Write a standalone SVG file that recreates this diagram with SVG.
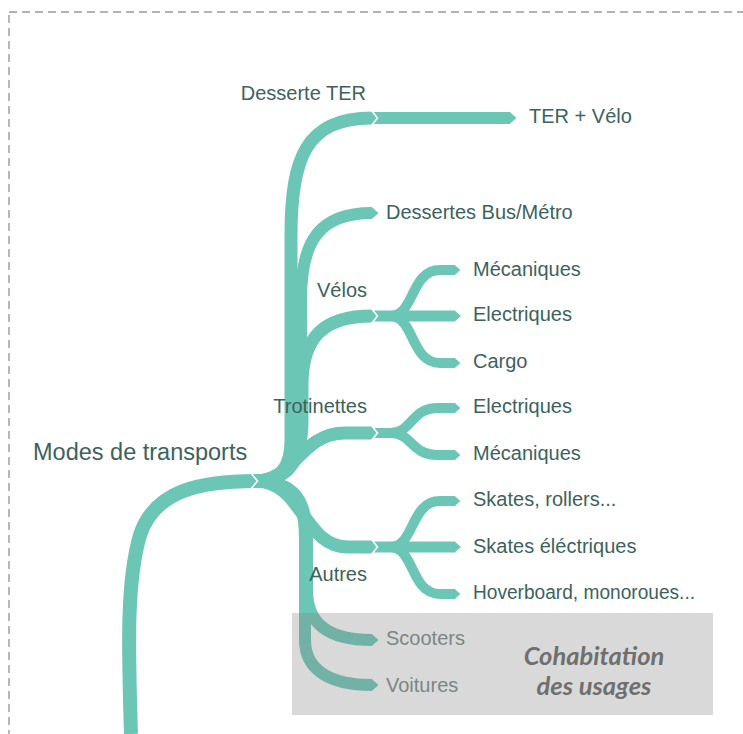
<svg xmlns="http://www.w3.org/2000/svg" width="743" height="734" viewBox="0 0 743 734">
<style>
.br{fill:none;stroke:#6cc6b6;stroke-linecap:butt;stroke-linejoin:round}
.lf{marker-end:url(#tip)}
.notch{fill:none;stroke:#ffffff;stroke-width:1.6;stroke-linejoin:miter}
.t{font-family:"Liberation Sans",Arial,sans-serif;font-size:20px;fill:#3d625d}
.root{font-size:23.5px}
.end{text-anchor:end}
.dim{fill:#7b8684}
.note{font-family:Lato,"Open Sans",sans-serif;font-size:25.5px;font-weight:bold;font-style:italic;fill:#6f6f6f;text-anchor:middle}
</style>
<defs>
<marker id="tip" markerUnits="strokeWidth" markerWidth="0.6" markerHeight="1" viewBox="0 -0.5 0.6 1" refX="0.02" refY="0" orient="auto" overflow="visible">
<path d="M0,-0.5 L0.56,0 L0,0.5 z" fill="#6cc6b6"/>
</marker>
</defs>
<rect x="9" y="12" width="760" height="760" fill="none" stroke="#9a9a9a" stroke-width="1.4" stroke-dasharray="8,5"/>
<g id="connectors">
<path class="br" stroke-width="14" d="M131,734 C128,640 127,580 140,535 C155,490 200,481 258,481"/>
<path class="br" stroke-width="13" d="M255,481 C280,481 291,468 291,440 L291,235 C291,158 306,118 372,118"/>
<path class="br lf" stroke-width="12" d="M255,481 C285,481 301,465 301,430 L301,300 C301,240 320,213 372,213"/>
<path class="br" stroke-width="13" d="M255,481 C288,481 302,460 302,420 L302,385 C302,336 325,316 372,316"/>
<path class="br" stroke-width="13" d="M255,481 C295,481 300,433 345,433 L372,433"/>
<path class="br" stroke-width="13" d="M255,481 C303,481 303,547 348,547 L372,547"/>
<path class="br lf" stroke-width="12" d="M255,481 C295,481 307,500 307,540 L307,590 C307,625 330,640 372,640"/>
<path class="br lf" stroke-width="12" d="M255,481 C295,481 305,500 305,540 L305,640 C305,670 330,685 372,685"/>
<path class="br lf" stroke-width="12" d="M372,118 L510,118"/>
<path class="br lf" stroke-width="11" d="M372,316 L455,316"/>
<path class="br lf" stroke-width="10" d="M372,316 L390,316 C415,316 410,270 440,270 L455,270"/>
<path class="br lf" stroke-width="10" d="M372,316 L390,316 C415,316 410,363 440,363 L455,363"/>
<path class="br lf" stroke-width="10" d="M372,433 L390,433 C413,433 410,408 438,408 L455,408"/>
<path class="br lf" stroke-width="10" d="M372,433 L390,433 C413,433 410,455 438,455 L455,455"/>
<path class="br lf" stroke-width="11" d="M372,547 L455,547"/>
<path class="br lf" stroke-width="10" d="M372,547 L390,547 C415,547 410,501 440,501 L455,501"/>
<path class="br lf" stroke-width="10" d="M372,547 L390,547 C415,547 410,594 440,594 L455,594"/>
<polyline class="notch" points="251,473 257.5,481 251,489"/>
<polyline class="notch" points="371.5,110.5 377.5,118 371.5,125.5"/>
<polyline class="notch" points="371.5,308.5 377.5,316 371.5,323.5"/>
<polyline class="notch" points="371.5,425.5 377.5,433 371.5,440.5"/>
<polyline class="notch" points="371.5,539.5 377.5,547 371.5,554.5"/>
</g>
<g id="n-root"><text class="t root" x="33" y="460">Modes de transports</text></g>
<g id="n-ter"><text class="t end" x="366" y="100">Desserte TER</text></g>
<g id="n-tervelo"><text class="t" x="529" y="123">TER + Vélo</text></g>
<g id="n-bus"><text class="t" x="386" y="219">Dessertes Bus/Métro</text></g>
<g id="n-velos"><text class="t end" x="367" y="297">Vélos</text></g>
<g id="n-velos-meca"><text class="t" x="473" y="276">Mécaniques</text></g>
<g id="n-velos-elec"><text class="t" x="473" y="321">Electriques</text></g>
<g id="n-velos-cargo"><text class="t" x="473" y="368">Cargo</text></g>
<g id="n-trot"><text class="t end" x="367" y="413">Trotinettes</text></g>
<g id="n-trot-elec"><text class="t" x="473" y="413">Electriques</text></g>
<g id="n-trot-meca"><text class="t" x="473" y="460">Mécaniques</text></g>
<g id="n-autres"><text class="t end" x="367" y="581">Autres</text></g>
<g id="n-skates"><text class="t" x="473" y="506">Skates, rollers...</text></g>
<g id="n-skates-elec"><text class="t" x="473" y="553">Skates éléctriques</text></g>
<g id="n-hover"><text class="t" x="473" y="599" textLength="222" lengthAdjust="spacingAndGlyphs">Hoverboard, monoroues...</text></g>
<g id="cohabitation">
<rect x="292" y="613" width="421" height="102" fill="#808080" fill-opacity="0.3"/>
<text class="note" x="594" y="665">Cohabitation</text>
<text class="note" x="594" y="695">des usages</text>
</g>
<g id="n-scooters"><text class="t dim" x="386" y="645">Scooters</text></g>
<g id="n-voitures"><text class="t dim" x="386" y="692">Voitures</text></g>
</svg>
